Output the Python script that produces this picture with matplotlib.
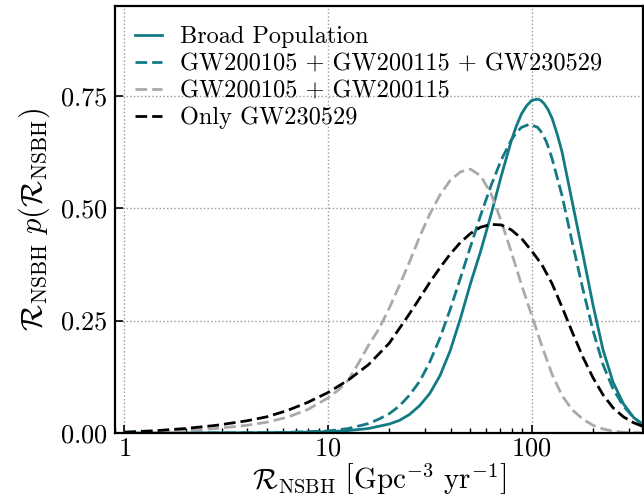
import matplotlib
matplotlib.use("Agg")
import matplotlib.pyplot as plt

plt.rcParams['mathtext.fontset'] = 'cm'
plt.rcParams['font.family'] = ['cmr10', 'DejaVu Serif']
plt.rcParams['axes.formatter.use_mathtext'] = True

# ---- data ----
broad_x = [1.0, 2.0, 3.98, 6.31, 10.0, 12.6, 15.8, 20.0, 22.4, 25.1, 28.2, 31.6, 35.5, 39.8, 44.7,
           50.1, 56.2, 63.1, 70.8, 79.4, 84.1, 89.1, 94.4, 100.0, 107.0, 110.9, 115.0, 120.2, 126.0,
           133.4, 141.0, 158.0, 178.0, 200.0, 224.0, 251.0, 282.0, 316.0, 350.0]
broad_y = [0.0, 0.0001, 0.0005, 0.0012, 0.003, 0.0055, 0.010, 0.020, 0.028, 0.041, 0.061, 0.088,
           0.128, 0.183, 0.255, 0.333, 0.405, 0.485, 0.571, 0.650, 0.683, 0.710, 0.728, 0.740,
           0.743, 0.740, 0.733, 0.720, 0.700, 0.665, 0.625, 0.515, 0.400, 0.285, 0.185, 0.113,
           0.065, 0.035, 0.018]

comb_x = [1.0, 3.16, 6.31, 10.0, 12.6, 15.8, 17.8, 20.0, 22.4, 25.1, 28.2, 31.6, 35.5, 39.8, 44.7,
          50.1, 56.2, 63.1, 70.8, 79.4, 84.1, 89.1, 97.7, 107.0, 112.2, 117.5, 121.6, 126.0, 141.0,
          158.0, 178.0, 200.0, 224.0, 251.0, 282.0, 316.0, 350.0]
comb_y = [0.0, 0.0003, 0.0015, 0.0045, 0.010, 0.021, 0.031, 0.043, 0.060, 0.084, 0.115, 0.158,
          0.212, 0.275, 0.345, 0.415, 0.485, 0.550, 0.607, 0.652, 0.668, 0.680, 0.687, 0.680,
          0.668, 0.650, 0.632, 0.610, 0.528, 0.425, 0.322, 0.228, 0.152, 0.098, 0.060, 0.035,
          0.020]

old_x = [1.0, 1.41, 2.0, 2.82, 3.98, 5.01, 6.31, 7.94, 10.0, 11.2, 12.6, 14.1, 15.8, 17.8, 20.0,
         22.4, 25.1, 28.2, 31.6, 35.5, 39.8, 44.7, 50.1, 56.2, 63.1, 70.8, 79.4, 89.1, 100.0,
         112.0, 126.0, 141.0, 158.0, 178.0, 200.0, 224.0, 251.0, 282.0, 350.0]
old_y = [0.001, 0.002, 0.005, 0.010, 0.017, 0.024, 0.035, 0.052, 0.078, 0.095, 0.118, 0.155,
         0.195, 0.232, 0.278, 0.328, 0.380, 0.437, 0.487, 0.530, 0.562, 0.581, 0.587, 0.572,
         0.533, 0.472, 0.403, 0.330, 0.262, 0.195, 0.130, 0.083, 0.052, 0.031, 0.017, 0.009,
         0.004, 0.0015, 0.0002]

new_x = [1.0, 1.41, 2.0, 2.82, 3.98, 5.01, 6.31, 7.94, 10.0, 12.6, 15.8, 20.0, 25.1, 28.2, 31.6,
         35.5, 39.8, 44.7, 50.1, 56.2, 63.1, 70.8, 79.4, 89.1, 100.0, 112.0, 126.0, 141.0, 158.0,
         178.0, 200.0, 224.0, 251.0, 282.0, 316.0, 350.0]
new_y = [0.002, 0.005, 0.010, 0.017, 0.027, 0.036, 0.050, 0.068, 0.090, 0.118, 0.152, 0.200,
         0.265, 0.300, 0.335, 0.368, 0.398, 0.424, 0.444, 0.458, 0.464, 0.463, 0.452, 0.433,
         0.405, 0.375, 0.332, 0.280, 0.225, 0.170, 0.123, 0.085, 0.056, 0.036, 0.023, 0.015]

labels = ["Broad Population", "GW200105 + GW200115 + GW230529",
          "GW200105 + GW200115", "Only GW230529"]

teal = '#137a84'
gray = '#aaaaaa'

fig = plt.figure(figsize=(6.44, 4.98), dpi=100)
ax = fig.add_axes([115/644, 1 - 433/498, (642.5 - 115)/644, (433 - 6)/498])

lw = 2.0
dash = (4.2, 1.8)
ax.plot(broad_x, broad_y, color=teal, lw=lw, label=labels[0])
ax.plot(comb_x, comb_y, color=teal, lw=lw, ls='--', dashes=dash, label=labels[1])
ax.plot(old_x, old_y, color=gray, lw=lw, ls='--', dashes=dash, label=labels[2])
ax.plot(new_x, new_y, color='black', lw=lw, ls='--', dashes=dash, label=labels[3])

ax.set_xscale('log')
ax.set_xlim(0.9, 350)
ax.set_ylim(0, 0.95)
ax.set_xticks([1, 10, 100])
ax.set_xticklabels([r'$1$', r'$10$', r'$100$'])
ax.set_yticks([0, 0.25, 0.5, 0.75])
ax.set_yticklabels([r'$0.00$', r'$0.25$', r'$0.50$', r'$0.75$'])
ax.tick_params(which='both', direction='in', labelsize=19)
ax.tick_params(which='major', length=6, width=1.2, pad=5)
ax.tick_params(axis='x', which='major', pad=3)
ax.tick_params(which='minor', length=3.5, width=1.0)
ax.tick_params(axis='y', which='minor', left=False)
ax.grid(True, which='major', ls=':', color='#999999', lw=1.0)
for s in ax.spines.values():
    s.set_linewidth(1.6)

ax.set_xlabel(r'$\mathcal{R}_{\rm NSBH}\ \left[{\rm Gpc}^{-3}\ {\rm yr}^{-1}\right]$', fontsize=21, labelpad=1)
ax.set_ylabel(r'$\mathcal{R}_{\rm NSBH}\ p(\mathcal{R}_{\rm NSBH})$', fontsize=22, labelpad=6)

ax.legend(loc='upper left', frameon=False, fontsize=17.5, handlelength=1.1,
          handletextpad=0.74, labelspacing=0.2, borderpad=0.4, borderaxespad=0.42)

fig.savefig('out.png', dpi=100)
